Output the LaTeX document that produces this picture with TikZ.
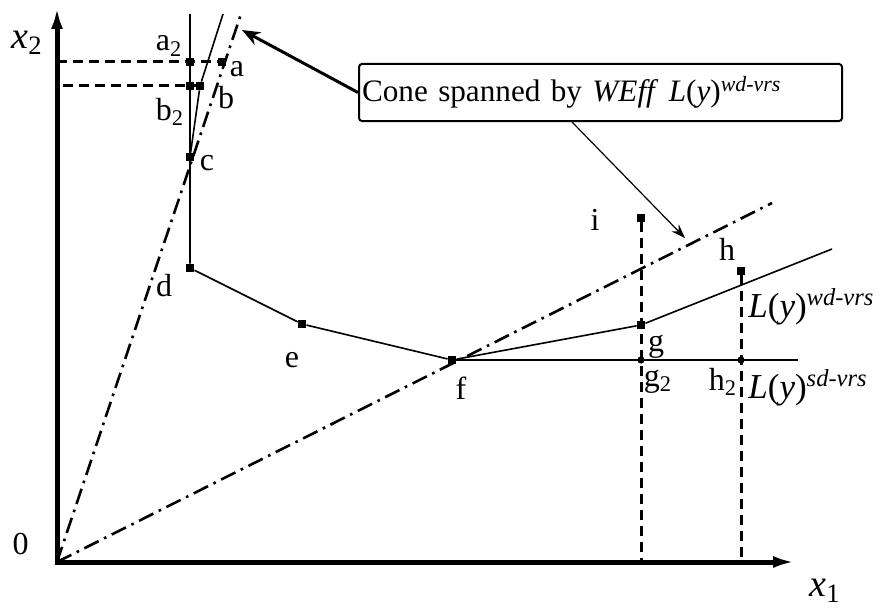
\documentclass[tikz,border=0pt]{standalone}
\usepackage{fontspec}
\setmainfont{Liberation Serif}
\usetikzlibrary{arrows.meta}

\tikzset{
  axis/.style={line width=2.5pt,{Latex[length=11pt,width=6pt]}-{Latex[length=11pt,width=6pt]}},
  sq/.style={fill,inner sep=0pt,minimum size=4pt},
  dot/.style={circle,fill,inner sep=0pt,minimum size=3.6pt},
  frontier/.style={line width=0.8pt},
  guide/.style={line width=1.5pt,dash pattern=on 5pt off 3pt},
  ray/.style={line width=1.3pt,dash pattern=on 8pt off 3pt on 1.3pt off 3pt},
  lbl/.style={font=\fontsize{16}{18}\selectfont,inner sep=0pt},
  curve lbl/.style={font=\fontsize{17.5}{19}\selectfont,inner sep=0pt,anchor=west},
  axlbl/.style={font=\fontsize{19}{21}\selectfont,inner sep=0pt},
  callout/.style={draw,line width=1pt,rounded corners=1.5pt,inner xsep=1.5pt,
    text width=238.5pt,minimum height=28.5pt,align=left,font=\fontsize{15.6}{18}\selectfont}
}

\begin{document}
\begin{tikzpicture}[x=5pt,y=5pt]
  \useasboundingbox (-5.7,-5.0) rectangle (82.6,56.2);
  % points of the isoquant
  \coordinate (o) at (0,0);
  \node[sq] (a2) at (13.3,50.0) {};
  \node[sq] (a) at (16.5,50.0) {};
  \node[sq] (b2) at (13.3,47.6) {};
  \node[sq] (b) at (14.3,47.6) {};
  \node[sq] (c) at (13.3,40.5) {};
  \node[sq] (d) at (13.3,29.4) {};
  \node[sq] (e) at (24.5,23.8) {};
  \node[sq] (f) at (39.5,20.2) {};
  \node[sq] (g) at (58.4,23.7) {};
  \node[dot] (g2) at (58.4,20.2) {};
  \node[sq] (h) at (68.4,29.1) {};
  \node[dot] (h2) at (68.4,20.2) {};
  \node[sq] (i) at (58.4,34.4) {};
  \coordinate (vtop) at (13.3,54.8);
  \coordinate (stop) at (16.6,54.8);
  \coordinate (wdend) at (77.5,31.3);
  \coordinate (sdend) at (74.1,20.2);
  \coordinate (rayA) at (18.4,54.8);
  \coordinate (rayB) at (71.5,35.9);
  \coordinate (ya) at (0,50.0);
  \coordinate (yb) at (0.6,47.6);
  \coordinate (g0) at (58.4,0);
  \coordinate (h0) at (68.4,0);

  % axes
  \draw[axis] (0,55.5) -- (o) -- (73.8,0);

  % cone rays
  \draw[ray] (o) -- (rayA);
  \draw[ray] (o) -- (rayB);

  % isoquants
  \draw[frontier] (vtop) -- (d) -- (e) -- (f) -- (g) -- (wdend);
  \draw[frontier] (stop) -- (b) -- (c);
  \draw[frontier] (f) -- (sdend);

  % projections
  \draw[guide] (ya) -- (a);
  \draw[guide] (yb) -- (b);
  \draw[guide] (i) -- (g0);
  \draw[guide] (h) -- (h0);

  % callout
  \node[callout] (cone) at (54.35,46.95) {Cone spanned by \textit{WEff} \textit{L}(\textit{y})\textsuperscript{\textit{wd-vrs}}};
  \coordinate (tipA) at (18.5,53.2);
  \coordinate (tipB) at (62.8,32.4);
  \draw[line width=1.5pt,-{Stealth[length=9pt,width=7pt]}] (cone.west) -- (tipA);
  \draw[line width=0.6pt,-{Stealth[length=7pt,width=5pt]}] ([xshift=107pt]cone.south west) -- (tipB);

  % labels
  \node[axlbl] (lx2) at (-3.0,51.9) {\textit{x}\textsubscript{2}};
  \node[axlbl] (lx1) at (76.8,-2.9) {\textit{x}\textsubscript{1}};
  \node[lbl] (l0) at (-3.65,1.8) {0};
  \node[lbl] (la2) at (11.2,51.6) {a\textsubscript{2}};
  \node[lbl] (la) at (18.0,49.3) {a};
  \node[lbl] (lb) at (16.9,46.4) {b};
  \node[lbl] (lb2) at (11.3,45.0) {b\textsubscript{2}};
  \node[lbl] (lc) at (15.0,39.9) {c};
  \node[lbl] (ld) at (10.7,27.6) {d};
  \node[lbl] (le) at (23.5,20.2) {e};
  \node[lbl] (lf) at (40.4,17.4) {f};
  \node[lbl] (lg) at (59.9,21.5) {g};
  \node[lbl] (lg2) at (60.1,18.0) {g\textsubscript{2}};
  \node[lbl] (lh) at (67.0,31.3) {h};
  \node[lbl] (lh2) at (66.6,18.0) {h\textsubscript{2}};
  \node[lbl] (li) at (53.8,34.2) {i};
  \node[curve lbl] (lwd) at (69.1,25.5) {\textit{L}(\textit{y})\textsuperscript{\textit{wd-vrs}}};
  \node[curve lbl] (lsd) at (69.1,17.4) {\textit{L}(\textit{y})\textsuperscript{\textit{sd-vrs}}};
\end{tikzpicture}
\end{document}
